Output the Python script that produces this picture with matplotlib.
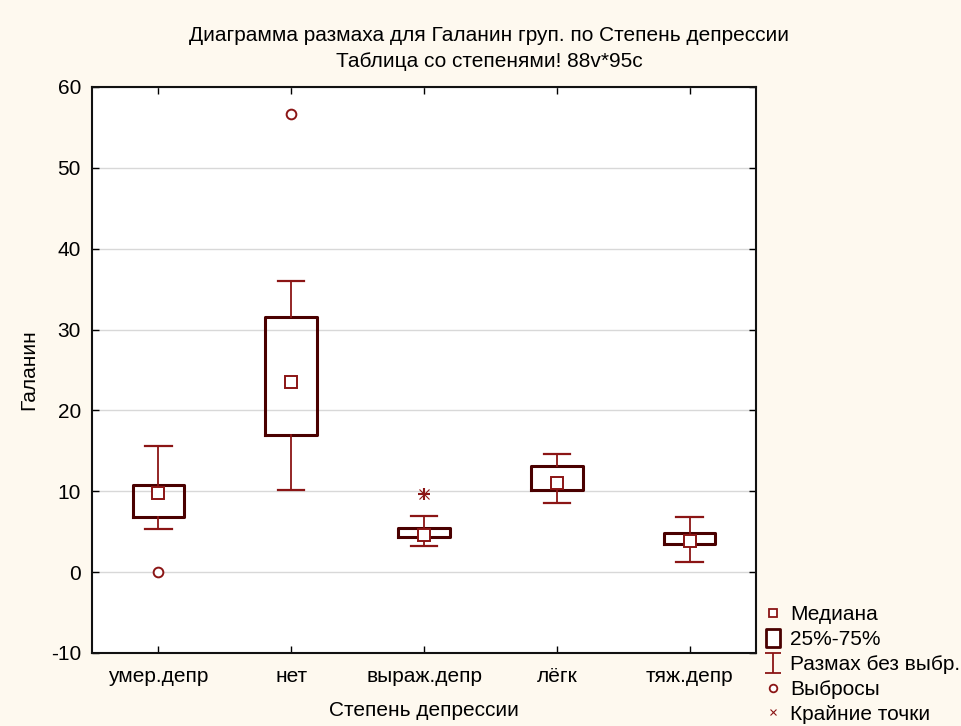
import matplotlib
matplotlib.use("Agg")
import matplotlib.pyplot as plt
from matplotlib.lines import Line2D
from matplotlib.path import Path

categories = ['умер.депр', 'нет', 'выраж.депр', 'лёгк', 'тяж.депр']
q1 = [6.8, 16.9, 4.3, 10.1, 3.45]
q3 = [10.8, 31.5, 5.4, 13.1, 4.9]
medians = [9.8, 23.5, 4.65, 11.0, 3.9]
whisk_lo = [5.3, 10.2, 3.2, 8.5, 1.2]
whisk_hi = [15.6, 36.0, 6.9, 14.6, 6.8]
outliers = [[0.0], [56.7], [], [], []]
extremes = [[], [], [9.7], [], []]

yticks = [-10, 0, 10, 20, 30, 40, 50, 60]
title = "Диаграмма размаха для Галанин груп. по Степень депрессии\nТаблица со степенями! 88v*95c"
xlabel = "Степень депрессии"
ylabel = "Галанин"
legend_labels = ["Медиана", "25%-75%", "Размах без выбр.", "Выбросы", "Крайние точки"]

plt.rcParams['font.family'] = ['Liberation Sans', 'DejaVu Sans']
plt.rcParams['axes.unicode_minus'] = False

BG = '#fef9ef'
BOX = '#4a0000'
RED = '#8b1515'
FS = 15

fig = plt.figure(figsize=(9.61, 7.26), dpi=100, facecolor=BG)
ax = fig.add_axes([92/961, 1-653/726, (756-92)/961, (653-87)/726])
ax.set_facecolor('white')

positions = list(range(len(categories)))
stats = []
for i in positions:
    stats.append(dict(med=medians[i], q1=q1[i], q3=q3[i], whislo=whisk_lo[i],
                      whishi=whisk_hi[i], fliers=outliers[i], label=categories[i]))

ax.bxp(stats, positions=positions, widths=0.39, showfliers=True,
       boxprops=dict(color=BOX, linewidth=2.2),
       whiskerprops=dict(color=RED, linewidth=1.3),
       capprops=dict(color=RED, linewidth=1.6),
       capwidths=0.2,
       medianprops=dict(linewidth=0),
       flierprops=dict(marker='o', markerfacecolor='white', markeredgecolor=RED,
                       markersize=7, markeredgewidth=1.4))
ax.plot(positions, medians, linestyle='none', marker='s', markersize=8,
        markerfacecolor='white', markeredgecolor=RED, markeredgewidth=1.4, zorder=5)
for i in positions:
    if extremes[i]:
        ax.plot([i] * len(extremes[i]), extremes[i], linestyle='none', marker='+',
                markersize=9, color=RED, markeredgewidth=1.5, zorder=5)
        ax.plot([i] * len(extremes[i]), extremes[i], linestyle='none', marker='x',
                markersize=7, color=RED, markeredgewidth=0.8, zorder=5)

ax.set_xlim(-0.5, len(categories) - 0.5)
ax.set_ylim(-10, 60)
ax.set_yticks(yticks)
ax.set_xticks(positions)
ax.set_xticklabels(categories)
ax.yaxis.grid(True, color='#d8d8d8', linewidth=1.0)
ax.set_axisbelow(True)
ax.tick_params(direction='in', length=5, width=1, labelsize=FS, top=True, right=True)
ax.tick_params(axis='y', pad=8)
ax.tick_params(axis='x', pad=10)
for s in ax.spines.values():
    s.set_linewidth(1.5)
    s.set_color('#111111')

ax.set_xlabel(xlabel, fontsize=FS, labelpad=11)
ax.set_ylabel(ylabel, fontsize=FS, labelpad=9)
fig.text(489 / 961, 1 - 48.5 / 726, title, ha='center', va='center',
         fontsize=15, linespacing=1.42)

ibeam = Path([(-0.75, 1), (0.75, 1), (0, 1), (0, -1), (-0.75, -1), (0.75, -1)],
             [Path.MOVETO, Path.LINETO, Path.MOVETO, Path.LINETO, Path.MOVETO, Path.LINETO])
rect = Path([(-0.83, -1), (0.83, -1), (0.83, 1), (-0.83, 1), (-0.83, -1)],
            [Path.MOVETO, Path.LINETO, Path.LINETO, Path.LINETO, Path.CLOSEPOLY])
handles = [
    Line2D([], [], linestyle='none', marker='s', markersize=5.5, markerfacecolor='white',
           markeredgecolor=RED, markeredgewidth=1.3),
    Line2D([], [], linestyle='none', marker=rect, markersize=13, markerfacecolor='white',
           markeredgecolor=BOX, markeredgewidth=2.0),
    Line2D([], [], linestyle='none', marker=ibeam, markersize=14.5, color=RED,
           markeredgewidth=1.3),
    Line2D([], [], linestyle='none', marker='o', markersize=5.5, markerfacecolor='white',
           markeredgecolor=RED, markeredgewidth=1.3),
    Line2D([], [], linestyle='none', marker='x', markersize=5, color=RED,
           markeredgewidth=0.8),
]
fig.legend(handles, legend_labels, loc='lower left',
           bbox_to_anchor=(756.7 / 961, 1 - 732 / 726),
           frameon=False, fontsize=FS, handlelength=0.8, handletextpad=0.4,
           borderpad=0.4, labelspacing=0.28, borderaxespad=0.0)

fig.savefig('out.png', dpi=100, facecolor=BG)
